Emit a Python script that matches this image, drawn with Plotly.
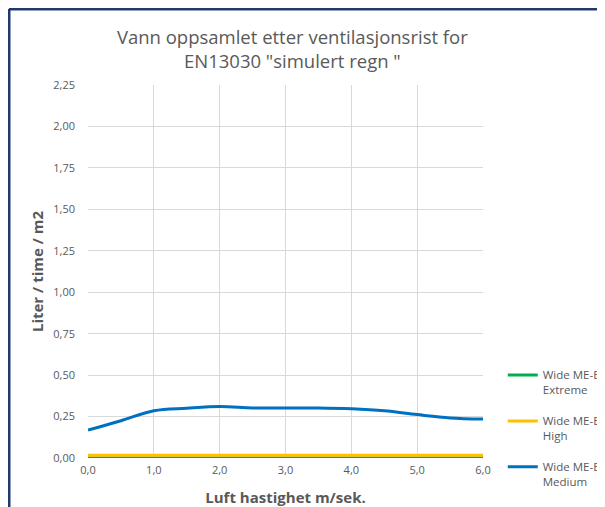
import plotly.graph_objects as go

speed = [0.0, 0.5, 1.0, 1.5, 2.0, 2.5, 3.0, 3.5, 4.0, 4.5, 5.0, 5.5, 6.0]
extreme = [0.0] * 13
high = [0.017] * 13
medium = [0.168, 0.225, 0.285, 0.300, 0.310, 0.302, 0.302, 0.302, 0.297, 0.285, 0.262, 0.242, 0.235]

names = ["Wide ME-B<br>Extreme", "Wide ME-B<br>High", "Wide ME-B<br>Medium"]
colors = ["#00B050", "#FFC000", "#0070C0"]
series = [extreme, high, medium]

y_ticks = [0, 0.25, 0.5, 0.75, 1.0, 1.25, 1.5, 1.75, 2.0, 2.25]
y_labels = ["0,00", "0,25", "0,50", "0,75", "1,00", "1,25", "1,50", "1,75", "2,00", "2,25"]
x_ticks = [0, 1, 2, 3, 4, 5, 6]
x_labels = ["0,0", "1,0", "2,0", "3,0", "4,0", "5,0", "6,0"]

fig = go.Figure()
for i, (n, c, s) in enumerate(zip(names, colors, series)):
    fig.add_trace(go.Scatter(x=speed, y=s, name=n, mode="lines", legendgroup=f"g{i}",
                             line=dict(color=c, width=3, shape="spline")))

grey = "#595959"
fig.update_layout(
    width=605, height=507,
    margin=dict(l=80, r=130, t=77, b=57, autoexpand=False),
    paper_bgcolor="white", plot_bgcolor="white",
    font=dict(family="Open Sans", color=grey, size=11),
    title=dict(text='Vann oppsamlet etter ventilasjonsrist for<br>EN13030 "simulert regn "',
               x=0.47, xanchor="center", y=0.929, yanchor="middle",
               font=dict(size=18.5, color=grey)),
    showlegend=True,
    legend=dict(x=1.05, y=0.26, xanchor="left", yanchor="top", valign="top",
                font=dict(size=11.5, color=grey), tracegroupgap=13,
                traceorder="grouped", itemwidth=30, bgcolor="rgba(0,0,0,0)"),
    xaxis=dict(range=[0, 6], tickvals=x_ticks, ticktext=x_labels, automargin=False,
               showgrid=True, gridcolor="#d9d9d9", gridwidth=1, zeroline=False,
               showline=False, ticks="", tickfont=dict(size=11, color=grey),
               ticklabelstandoff=4,
               title=dict(text="<b>Luft hastighet m/sek.</b>", font=dict(size=15, color=grey),
                          standoff=16)),
    yaxis=dict(range=[0, 2.25], tickvals=y_ticks, ticktext=y_labels, automargin=False,
               showgrid=True, gridcolor="#d9d9d9", gridwidth=1, zeroline=False,
               showline=False, ticks="", tickfont=dict(size=11, color=grey),
               ticklabelstandoff=12,
               title=dict(text="<b>Liter / time / m2</b>", font=dict(size=15, color=grey),
                          standoff=6)),
)

border = "#1F3A6B"
fig.add_shape(type="line", xref="paper", yref="paper", x0=-0.2, x1=1.4, y0=1.2038, y1=1.2038,
              line=dict(color=border, width=3))
fig.add_shape(type="line", xref="paper", yref="paper", x0=-0.2, x1=-0.2, y0=-0.2, y1=1.2038,
              line=dict(color=border, width=3))

fig.write_html("out.html")
